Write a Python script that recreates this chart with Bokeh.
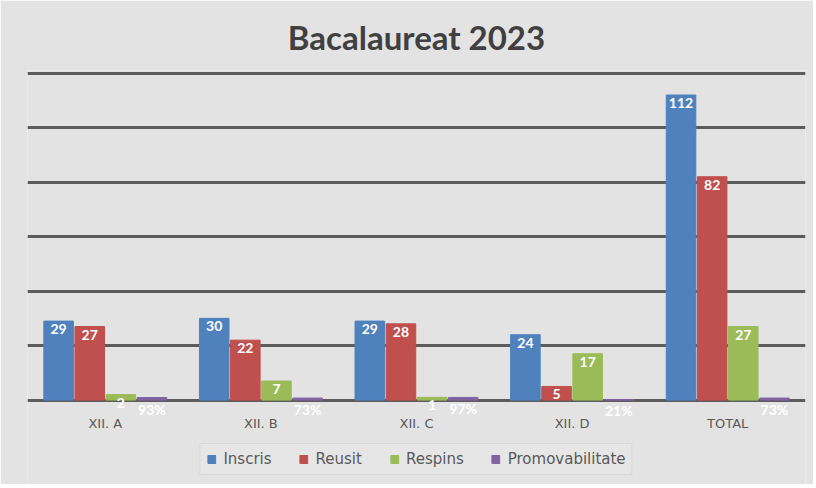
from bokeh.plotting import figure
from bokeh.models import ColumnDataSource, FactorRange, Range1d, Grid, FixedTicker, Legend, LegendItem
from bokeh.transform import dodge
from bokeh.core.properties import value
from bokeh.embed import file_html
from bokeh.resources import INLINE

categories = ["XII. A", "XII. B", "XII. C", "XII. D", "TOTAL"]
inscris = [29, 30, 29, 24, 112]
reusit = [27, 22, 28, 5, 82]
respins = [2, 7, 1, 17, 27]
promovabilitate = [0.93, 0.73, 0.97, 0.21, 0.73]
promo_labels = ["93%", "73%", "97%", "21%", "73%"]
grid_ticks = [0, 20, 40, 60, 80, 100, 120]

src = ColumnDataSource(dict(
    cat=categories,
    inscris=inscris,
    reusit=reusit,
    respins=respins,
    promo=promovabilitate,
    inscris_t=[str(v) for v in inscris],
    reusit_t=[str(v) for v in reusit],
    respins_t=[str(v) for v in respins],
    promo_t=promo_labels,
    base=[0] * len(categories),
))

BG = "#e3e3e3"
p = figure(x_range=FactorRange(*categories), y_range=Range1d(-31, 121),
           frame_width=778, frame_height=414, output_backend="svg", toolbar_location=None,
           x_axis_location=None, y_axis_location=None,
           min_border_left=27, min_border_right=8, min_border_top=70, min_border_bottom=0,
           background_fill_color=BG, border_fill_color=BG,
           outline_line_color=None)

p.title.text = "Bacalaureat 2023"
p.title.align = "center"
p.title.text_font = "Lato"
p.title.text_font_size = "33px"
p.title.text_color = "#404040"
p.title.text_font_style = "bold"
p.title.standoff = 28

p.grid.visible = False
p.add_layout(Grid(dimension=1, ticker=FixedTicker(ticks=grid_ticks),
                  grid_line_color="#5c5c5c", grid_line_width=3))

# category (tick) labels under the baseline
p.text(x="cat", y="base", text="cat", source=src, text_align="center",
       text_baseline="top", y_offset=16, text_color="#595959",
       text_font=value("DejaVu Sans"), text_font_size="13px")

series = [("inscris", "Inscris", "#4F81BD", -0.3),
          ("reusit", "Reusit", "#C0504D", -0.1),
          ("respins", "Respins", "#9BBB59", 0.1),
          ("promo", "Promovabilitate", "#8064A2", 0.3)]

items = []
for col, name, color, off in series:
    r = p.vbar(x=dodge("cat", off, range=p.x_range), top=col, width=0.19,
               bottom=0, source=src, fill_color=color, line_color=color)
    items.append(LegendItem(label=name, renderers=[r]))
    p.text(x=dodge("cat", off, range=p.x_range), y=col, text=col + "_t", source=src,
           text_align="center", text_baseline="top", y_offset=3,
           text_color="white", text_font=value("Lato"), text_font_style="bold",
           text_font_size="14px")

legend = Legend(items=items, orientation="horizontal", location="bottom_center",
                label_text_font="DejaVu Sans", label_text_font_size="15px",
                label_text_color="#595959", glyph_width=10, glyph_height=10,
                label_standoff=7, spacing=27, padding=6, margin=9,
                border_line_color="#cccccc", background_fill_color="#e6e6e6",
                background_fill_alpha=1.0)
p.add_layout(legend)

open("out.html", "w").write(file_html(p, INLINE))
